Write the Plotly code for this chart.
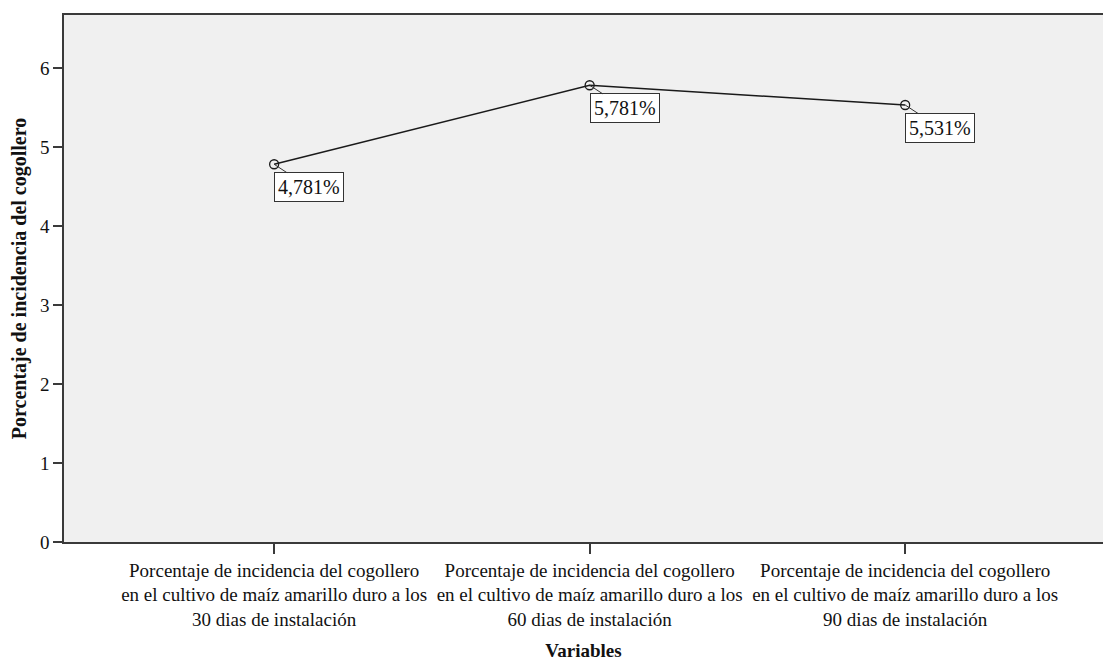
import plotly.graph_objects as go

categories = [
    "Porcentaje de incidencia del cogollero<br>en el cultivo de maíz amarillo duro a los<br>30 dias de instalación",
    "Porcentaje de incidencia del cogollero<br>en el cultivo de maíz amarillo duro a los<br>60 dias de instalación",
    "Porcentaje de incidencia del cogollero<br>en el cultivo de maíz amarillo duro a los<br>90 dias de instalación",
]
values = [4.781, 5.781, 5.531]
labels = ["4,781%", "5,781%", "5,531%"]
y_ticks = [0, 1, 2, 3, 4, 5, 6]

font_family = "Liberation Serif, Times New Roman, serif"

fig = go.Figure()
fig.add_trace(go.Scatter(
    x=list(range(len(categories))), y=values, mode="lines+markers",
    line=dict(color="#1a1a1a", width=1.5),
    marker=dict(symbol="circle-open", size=9, color="#1a1a1a", line=dict(width=1.3)),
    showlegend=False, hoverinfo="skip",
))

for i, (v, lab) in enumerate(zip(values, labels)):
    fig.add_annotation(
        x=i, y=v, text=lab, showarrow=True, arrowhead=0, arrowwidth=1,
        arrowcolor="#333333", ax=35, ay=23,
        font=dict(family=font_family, size=20, color="#111111"),
        bgcolor="white", bordercolor="#333333", borderwidth=1, borderpad=3,
    )

fig.update_layout(
    width=1103, height=661,
    margin=dict(l=64, r=0, t=15, b=119),
    paper_bgcolor="white", plot_bgcolor="#f0f0f0",
    font=dict(family=font_family, size=19, color="#111111"),
    xaxis=dict(
        tickmode="array", tickvals=list(range(len(categories))), ticktext=categories,
        range=[-0.666, 2.627], showgrid=False, zeroline=False, automargin=False,
        showline=True, linecolor="#3a3a3a", linewidth=1.5, mirror=True,
        ticks="outside", ticklen=10, tickcolor="#3a3a3a", tickwidth=1.5,
        tickfont=dict(family=font_family, size=19, color="#111111"),
        title=dict(text="<b>Variables</b>", font=dict(family=font_family, size=19), standoff=17),
    ),
    yaxis=dict(
        range=[0, 6.67], tickmode="array", tickvals=y_ticks,
        showgrid=False, zeroline=False, automargin=False,
        showline=True, linecolor="#3a3a3a", linewidth=1.5, mirror=False,
        ticks="outside", ticklen=9, tickcolor="#3a3a3a", tickwidth=1.5,
        tickfont=dict(family=font_family, size=19, color="#111111"),
        title=dict(text="<b>Porcentaje de incidencia del cogollero</b>",
                   font=dict(family=font_family, size=20), standoff=8),
    ),
)

fig.write_html(
    "out.html",
    config={"displayModeBar": False},
    post_script="document.body.style.margin='0';document.body.style.overflow='hidden';",
)
